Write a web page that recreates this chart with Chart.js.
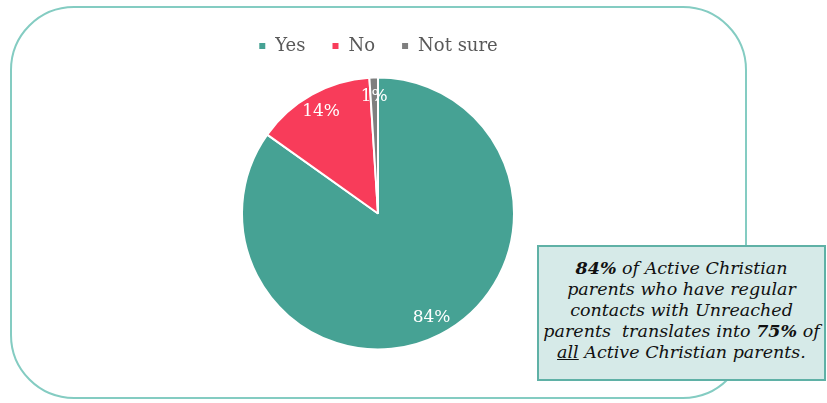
<!DOCTYPE html>
<html>
<head>
<meta charset="utf-8">
<script src="https://cdn.jsdelivr.net/npm/chart.js@4.4.1/dist/chart.umd.min.js"></script>
<style>
  html, body { margin: 0; padding: 0; background: #ffffff; }
  #stage { position: relative; width: 827px; height: 403px; overflow: hidden; }
  #frame {
    position: absolute; left: 10px; top: 6px; width: 737px; height: 393px;
    border: 2px solid #84ccc2; border-radius: 64px; box-sizing: border-box;
  }
  #wrap { position: absolute; left: 0; top: 0; width: 756px; height: 403px; }
  #note {
    position: absolute; left: 537px; top: 245px; width: 289px; height: 136px;
    box-sizing: border-box; background: #d6eae8; border: 2px solid #5fb1a6;
    font-family: "DejaVu Serif", serif; font-style: italic; font-size: 17.5px;
    line-height: 21px; color: #111; text-align: center; padding-top: 11px;
    white-space: nowrap;
  }
  #note b { font-weight: bold; }
  #note u { text-decoration: underline; }
</style>
</head>
<body>
<div id="stage">
  <div id="frame"></div>
  <div id="wrap"><canvas id="c"></canvas></div>
  <div id="note">
    <b>84%</b> of Active Christian<br>
    parents who have regular<br>
    contacts with Unreached<br>
    parents&nbsp; translates into <b>75%</b> of<br>
    <u>all</u> Active Christian parents.
  </div>
</div>
<script>
const categories = ["Yes", "No", "Not sure"];
const shares = [84, 14, 1];
const shareLabels = ["84%", "14%", "1%"];
const sliceColors = ["#46a294", "#f83c5a", "#7f7f7f"];

// Writes each slice's percentage inside it, along the slice's middle angle
const sliceLabels = {
  id: "sliceLabels",
  afterDatasetsDraw(chart) {
    const ctx = chart.ctx;
    const meta = chart.getDatasetMeta(0);
    ctx.save();
    ctx.font = "17px 'DejaVu Serif', serif";
    ctx.fillStyle = "#ffffff";
    ctx.textAlign = "center";
    ctx.textBaseline = "middle";
    meta.data.forEach((arc, i) => {
      const p = arc.getProps(["x", "y", "startAngle", "endAngle", "outerRadius"], true);
      const mid = (p.startAngle + p.endAngle) / 2;
      const d = p.outerRadius * 0.86;
      ctx.fillText(shareLabels[i], p.x + Math.cos(mid) * d, p.y + Math.sin(mid) * d);
    });
    ctx.restore();
  }
};

new Chart(document.getElementById("c"), {
  type: "pie",
  data: {
    labels: categories,
    datasets: [{
      data: shares,
      backgroundColor: sliceColors,
      borderColor: "#ffffff",
      borderWidth: 2
    }]
  },
  options: {
    responsive: true,
    maintainAspectRatio: false,
    animation: false,
    radius: 136,
    layout: { padding: { top: 11, bottom: 41 } },
    plugins: {
      legend: {
        position: "top",
        labels: {
          font: { family: "'DejaVu Serif', serif", size: 18 },
          color: "#595959",
          usePointStyle: true,
          pointStyle: "rect",
          boxWidth: 8,
          boxHeight: 8,
          padding: 26
        }
      },
      tooltip: { enabled: false }
    }
  },
  plugins: [sliceLabels]
});
</script>
</body>
</html>
